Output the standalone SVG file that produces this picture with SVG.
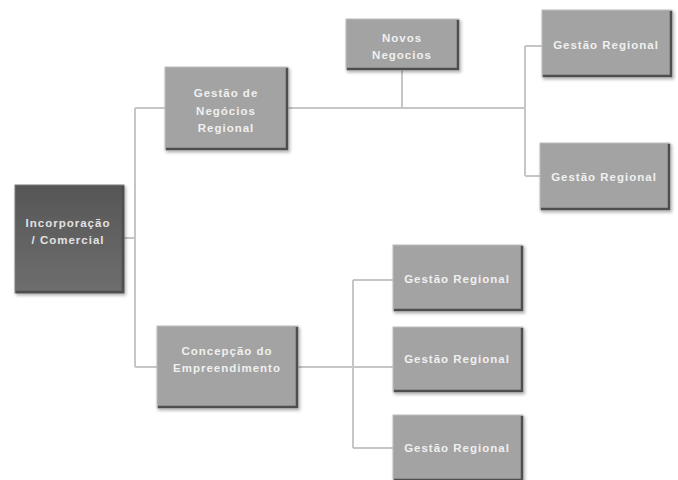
<svg xmlns="http://www.w3.org/2000/svg" width="678" height="480" viewBox="0 0 678 480">
<defs>
<linearGradient id="gDark" x1="0" y1="0" x2="0" y2="1">
<stop offset="0" stop-color="#565656"/>
<stop offset="1" stop-color="#6e6e6e"/>
</linearGradient>
<filter id="sh" x="-10%" y="-10%" width="125%" height="130%">
<feDropShadow dx="1.5" dy="2" stdDeviation="1.5" flood-color="#000" flood-opacity="0.3"/>
</filter>
<style>
.box{fill:#a3a3a3;stroke:#bdbdbd;stroke-width:1;filter:url(#sh)}
.dark{fill:url(#gDark);stroke:#7a7a7a;stroke-width:1;filter:url(#sh)}
.edge{fill:none;stroke:#4e4e4e;stroke-width:2.5}
.t{font-family:"Liberation Sans",Arial,sans-serif;font-weight:bold;font-size:11.5px;letter-spacing:1px;fill:#f0f0f0;text-anchor:middle}
.td{fill:#e2e2e2}
.c{fill:none;stroke:#c6c6c6;stroke-width:2}
</style>
</defs>
<rect width="678" height="480" fill="#ffffff"/>
<g id="connectors">
<path class="c" d="M124 238H135M135 108V367M135 108H165M135 367H157"/>
<path class="c" d="M288 108H525M402 70V108M525 46V176M525 46H542M525 176H540"/>
<path class="c" d="M298 367H393M353 280V448M353 280H393M353 448H393"/>
</g>
<g id="root">
<rect class="dark" x="15" y="185" width="109" height="108"/>
<path class="edge" d="M123 186V292H16"/>
<text class="t td" x="68" y="227">Incorporação</text>
<text class="t td" x="68" y="244">/ Comercial</text>
</g>
<g id="gestao-negocios">
<rect class="box" x="165" y="67" width="123" height="83"/>
<path class="edge" d="M287 68V149H166"/>
<text class="t" x="226" y="97">Gestão de</text>
<text class="t" x="226" y="115">Negócios</text>
<text class="t" x="226" y="132">Regional</text>
</g>
<g id="novos-negocios">
<rect class="box" x="346" y="19" width="113" height="51"/>
<path class="edge" d="M458 20V69H347"/>
<text class="t" x="402" y="42">Novos</text>
<text class="t" x="402" y="59">Negocios</text>
</g>
<g id="gr1">
<rect class="box" x="542" y="10" width="130" height="67"/>
<path class="edge" d="M671 11V76H543"/>
<text class="t" x="606" y="49">Gestão Regional</text>
</g>
<g id="gr2">
<rect class="box" x="540" y="143" width="130" height="67"/>
<path class="edge" d="M669 144V209H541"/>
<text class="t" x="604" y="181">Gestão Regional</text>
</g>
<g id="concepcao">
<rect class="box" x="157" y="326" width="141" height="82"/>
<path class="edge" d="M297 327V407H158"/>
<text class="t" x="227" y="355">Concepção do</text>
<text class="t" x="227" y="372">Empreendimento</text>
</g>
<g id="gr3">
<rect class="box" x="393" y="245" width="130" height="66"/>
<path class="edge" d="M522 246V310H394"/>
<text class="t" x="457" y="283">Gestão Regional</text>
</g>
<g id="gr4">
<rect class="box" x="393" y="327" width="130" height="65"/>
<path class="edge" d="M522 328V391H394"/>
<text class="t" x="457" y="363">Gestão Regional</text>
</g>
<g id="gr5">
<rect class="box" x="393" y="415" width="130" height="66"/>
<path class="edge" d="M522 416V480H394"/>
<text class="t" x="457" y="452">Gestão Regional</text>
</g>
</svg>
